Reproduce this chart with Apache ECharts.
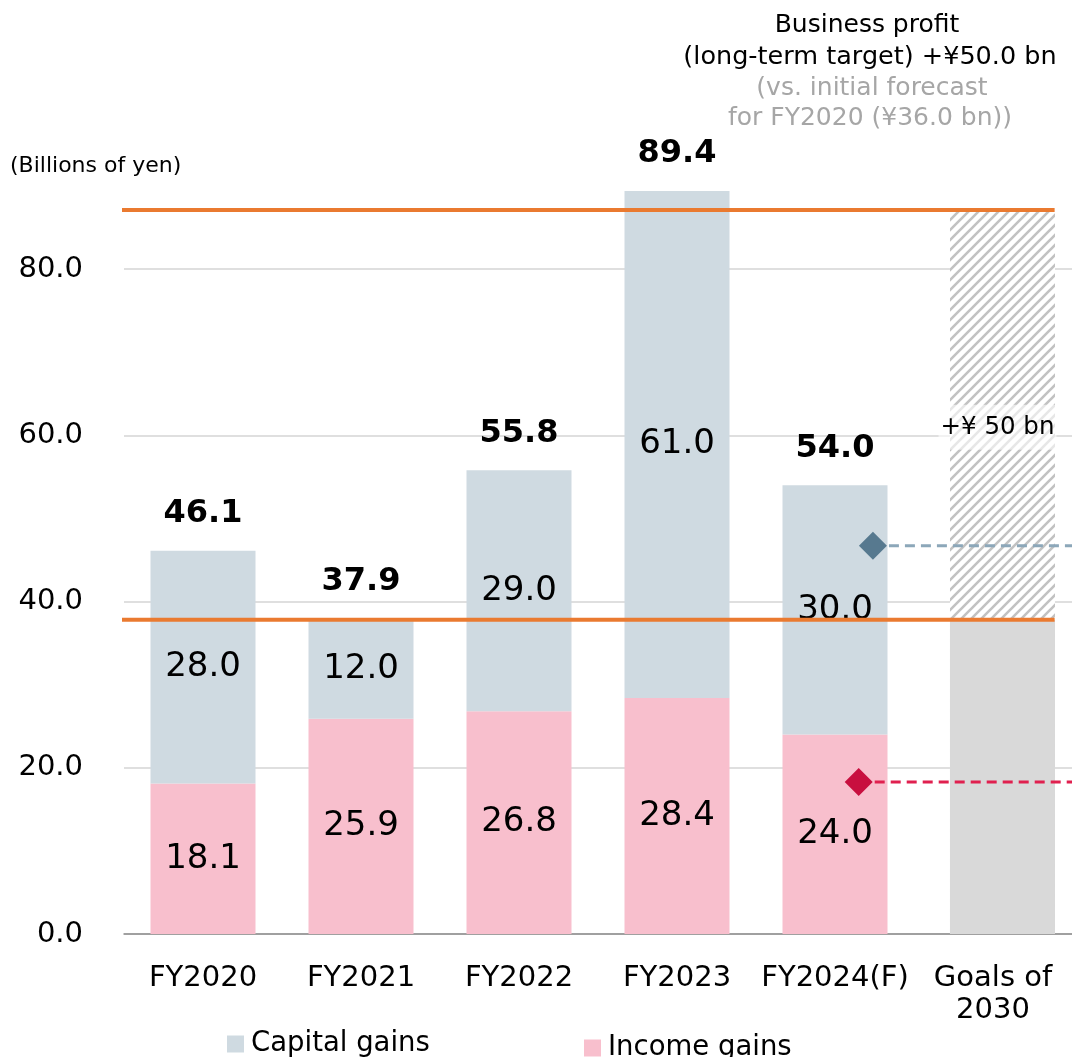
<!DOCTYPE html>
<html>
<head>
<meta charset="utf-8">
<script src="https://cdn.jsdelivr.net/npm/echarts@6/dist/echarts.min.js"></script>
<style>
  html, body { margin: 0; padding: 0; background: #fff; }
  #chart { width: 1072px; height: 1057px; }
</style>
</head>
<body>
<div id="chart"></div>
<script>
// values
const categories = ['FY2020', 'FY2021', 'FY2022', 'FY2023', 'FY2024(F)', 'Goals of\n2030']
const incomeGains = [18.1, 25.9, 26.8, 28.4, 24.0, null]
const capitalGains = [28.0, 12.0, 29.0, 61.0, 30.0, null]
const totals = [46.1, 37.9, 55.8, 89.4, 54.0, null]
// goal column sits a little right of its category slot, placed on the hidden index axis
const goalTarget = [[5.06, 87.1]]
const goalBase = [[5.06, 37.8]]
const targetLevels = [87.1, 37.8]
const targetSpan = [-0.54, 5.39]
const forecastCapital = [[4.24, 46.7], [5.5, 46.7]]
const forecastIncome = [[4.15, 18.3], [5.5, 18.3]]

const FONT = '"DejaVu Sans", Verdana, sans-serif'

function hatchPattern() {
  const c = document.createElement('canvas')
  c.width = 10; c.height = 10
  const g = c.getContext('2d')
  g.fillStyle = '#fff'
  g.fillRect(0, 0, 10, 10)
  g.strokeStyle = '#c2c2c2'
  g.lineWidth = 2.6
  g.beginPath()
  g.moveTo(-2, 12); g.lineTo(12, -2)
  g.moveTo(-2, 2); g.lineTo(2, -2)
  g.moveTo(8, 12); g.lineTo(12, 8)
  g.stroke()
  return c
}

const chart = echarts.init(document.getElementById('chart'))

const barBase = { type: 'bar', stack: 'total', barWidth: 105, xAxisIndex: 0 }
const goalBar = { type: 'bar', barWidth: 105, barGap: '-100%', xAxisIndex: 1 }

chart.setOption({
  animation: false,
  textStyle: { fontFamily: FONT },
  grid: { left: 124, top: 186, width: 951, height: 748 },
  legend: [
    { data: ['Capital gains'], left: 222, top: 1025, icon: 'rect', itemWidth: 17, itemHeight: 17, itemGap: 0,
      textStyle: { fontSize: 27.5, color: '#000', padding: [0, 0, 0, 2] } },
    { data: ['Income gains'], left: 579, top: 1029, icon: 'rect', itemWidth: 17, itemHeight: 17, itemGap: 0,
      textStyle: { fontSize: 27.5, color: '#000', padding: [0, 0, 0, 2] } }
  ],
  graphic: [
    { type: 'text', x: 867, y: 25, style: { text: 'Business profit', fontSize: 25, fontFamily: FONT, fill: '#000', align: 'center', verticalAlign: 'middle' } },
    { type: 'text', x: 870, y: 57, style: { text: '(long-term target) +¥50.0 bn', fontSize: 25.5, fontFamily: FONT, fill: '#000', align: 'center', verticalAlign: 'middle' } },
    { type: 'text', x: 872, y: 88, style: { text: '(vs. initial forecast', fontSize: 25, fontFamily: FONT, fill: '#a6a6a6', align: 'center', verticalAlign: 'middle' } },
    { type: 'text', x: 870, y: 118, style: { text: 'for FY2020 (¥36.0 bn))', fontSize: 25, fontFamily: FONT, fill: '#a6a6a6', align: 'center', verticalAlign: 'middle' } },
    { type: 'text', x: 10, y: 166, style: { text: '(Billions of yen)', fontSize: 22, fontFamily: FONT, fill: '#000', align: 'left', verticalAlign: 'middle' } }
  ],
  xAxis: [
    {
      type: 'category', data: categories,
      axisLine: { lineStyle: { color: '#8c8c8c', width: 1.5 } },
      axisTick: { show: false },
      axisLabel: { interval: 0, fontSize: 29, lineHeight: 32, margin: 28, color: '#000' }
    },
    { type: 'value', min: -0.5, max: 5.5, show: false }
  ],
  yAxis: {
    type: 'value', min: 0, max: 90, interval: 20,
    axisLine: { show: false },
    axisTick: { show: false },
    axisLabel: { fontSize: 29, margin: 41, color: '#000', showMaxLabel: false, formatter: v => v.toFixed(1) },
    splitLine: { showMaxLine: false, lineStyle: { color: '#d4d4d4', width: 1.5 } }
  },
  series: [
    { ...barBase, name: 'Income gains', data: incomeGains,
      itemStyle: { color: '#f8bfcd' },
      label: { show: true, position: 'inside', fontSize: 34, color: '#000', formatter: p => p.value.toFixed(1) } },
    { ...barBase, name: 'Capital gains', data: capitalGains,
      itemStyle: { color: '#cfdae1' },
      label: { show: true, position: 'inside', fontSize: 34, color: '#000', formatter: p => p.value.toFixed(1) } },
    { ...barBase, name: 'Totals', data: capitalGains.map(() => 0),
      itemStyle: { color: 'transparent' },
      label: { show: true, position: 'top', distance: 21, fontSize: 32, fontWeight: 'bold', color: '#000',
        formatter: p => totals[p.dataIndex] == null ? '' : totals[p.dataIndex].toFixed(1) } },
    { ...goalBar, name: 'Goal target', data: goalTarget,
      itemStyle: { color: { image: hatchPattern(), repeat: 'repeat' } },
      label: { show: true, position: ['50%', '30%'], align: 'center', verticalAlign: 'middle', offset: [-5, 0],
        formatter: '+¥ 50 bn', fontSize: 24.5, color: '#000',
        backgroundColor: 'rgba(255,255,255,0.6)', padding: [10, 2] } },
    { ...goalBar, name: 'Goal base', data: goalBase, itemStyle: { color: '#d9d9d9' } },
    ...targetLevels.map(v => ({
      type: 'line', xAxisIndex: 1, clip: false, silent: true, showSymbol: false, z: 5,
      data: targetSpan.map(x => [x, v]),
      lineStyle: { color: '#ea7a30', width: 4 }
    })),
    { type: 'line', xAxisIndex: 1, showSymbol: false, z: 4, data: forecastCapital,
      lineStyle: { color: '#8ca7b9', width: 3, type: [10, 6] } },
    { type: 'line', xAxisIndex: 1, showSymbol: false, z: 4, data: forecastIncome,
      lineStyle: { color: '#e0204f', width: 3, type: [10, 6] } },
    { type: 'scatter', xAxisIndex: 1, symbol: 'diamond', symbolSize: 28, z: 6,
      data: [forecastCapital[0]], itemStyle: { color: '#57798f', opacity: 1 } },
    { type: 'scatter', xAxisIndex: 1, symbol: 'diamond', symbolSize: 28, z: 6,
      data: [forecastIncome[0]], itemStyle: { color: '#c80f3f', opacity: 1 } }
  ]
})
</script>
</body>
</html>
